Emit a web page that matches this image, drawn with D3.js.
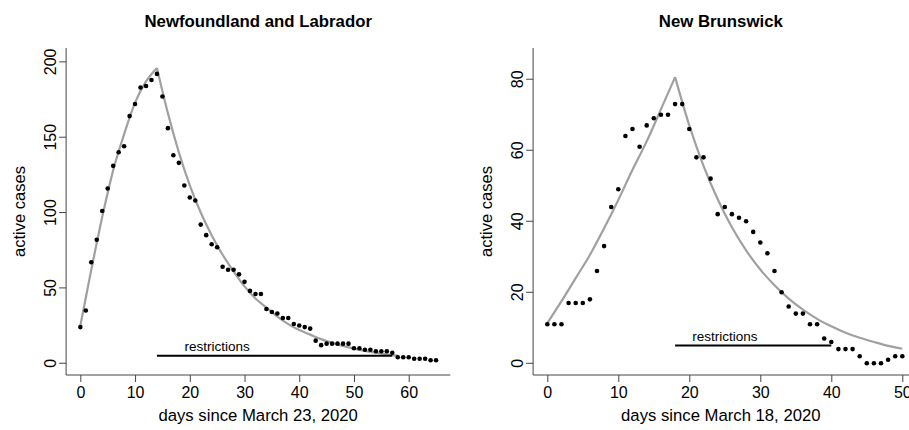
<!DOCTYPE html>
<html>
<head>
<meta charset="utf-8">
<script src="https://cdnjs.cloudflare.com/ajax/libs/d3/7.8.5/d3.min.js"></script>
<style>
  body { margin: 0; background: #fff; }
  text { font-family: "Liberation Sans", Arial, Helvetica, sans-serif; }
</style>
</head>
<body>
<div id="chart"></div>
<script>
// ---- Newfoundland and Labrador ----
var nlDays = d3.range(0, 66);
var nlCases = [24, 35, 67, 82, 101, 116, 131, 140, 144, 164, 172, 183, 184, 188, 192,
  177, 156, 138, 133, 118, 110, 108, 92, 85, 79, 77, 64, 62, 62, 59, 54, 48, 46, 46,
  36, 34, 33, 30, 30, 26, 25, 24, 23, 15, 12, 13, 13, 13, 13, 13, 10, 10, 9, 9, 8, 8,
  8, 7, 4, 4, 4, 3, 3, 3, 2, 2];
// fitted curve: rising part, then falling part
var nlRiseDays = [0, 2, 4, 6, 8, 10, 12, 14];
var nlRiseVals = [25, 62, 97, 128, 152, 173, 187, 196];
var nlFallDays = [14, 16, 18, 20, 22, 24, 26, 28, 30, 32, 34, 36, 38, 40, 42, 44, 46, 48, 50, 52, 54, 56, 58];
var nlFallVals = [196, 166, 140, 118, 100, 85, 72, 61, 51, 43, 37, 31, 26, 22, 19, 16, 13.5, 11.5, 9.7, 8.2, 7, 5.9, 5];
var nlRestrict = [14, 57];
var nlXTicks = [0, 10, 20, 30, 40, 50, 60];
var nlYTicks = [0, 50, 100, 150, 200];

// ---- New Brunswick ----
var nbDays = d3.range(0, 51);
var nbCases = [11, 11, 11, 17, 17, 17, 18, 26, 33, 44, 49, 64, 66, 61, 67, 69, 70, 70,
  73, 73, 66, 58, 58, 52, 42, 44, 42, 41, 40, 37, 34, 31, 26, 20, 16, 14, 14, 11, 11,
  7, 6, 4, 4, 4, 2, 0, 0, 0, 1, 2, 2];
var nbRiseDays = [0, 2, 4, 6, 8, 10, 12, 14, 16, 18];
var nbRiseVals = [11.3, 17.5, 24, 30.5, 38, 46, 54.5, 62.5, 71.5, 80.6];
var nbFallDays = [18, 20, 22, 24, 26, 28, 30, 32, 34, 36, 38, 40, 42, 44, 46, 48, 50];
var nbFallVals = [80.6, 67, 55.6, 46.2, 38.3, 31.8, 26.4, 22, 18.2, 15.1, 12.5, 10.4, 8.6, 7.2, 6, 4.9, 4.1];
var nbRestrict = [18, 40];
var nbXTicks = [0, 10, 20, 30, 40, 50];
var nbYTicks = [0, 20, 40, 60, 80];

var restrictLevel = 5;
var labelDay = 25;

var W = 909, H = 430;
var svg = d3.select("#chart").append("svg")
  .attr("width", W).attr("height", H);

function drawPanel(p) {
  var x = d3.scaleLinear().domain(p.xDomain).range([p.left, p.right]);
  var y = d3.scaleLinear().domain(p.yDomain).range([p.bottom, p.top]);
  var g = svg.append("g");

  // L-shaped box (left and bottom sides)
  g.append("path")
    .attr("d", "M" + p.left + "," + p.top + "V" + p.bottom + "H" + p.right)
    .attr("fill", "none").attr("stroke", "#444").attr("stroke-width", 1);

  var xAxis = d3.axisBottom(x).tickValues(p.xTicks).tickSize(7).tickPadding(5).tickSizeOuter(0);
  var gx = g.append("g").attr("transform", "translate(0," + p.bottom + ")").call(xAxis);
  gx.select(".domain").remove();
  gx.selectAll("line").attr("stroke", "#444");
  gx.selectAll("text").attr("font-size", 16).attr("fill", "#000");

  // y ticks with labels turned sideways, like R's default
  var yAxis = d3.axisLeft(y).tickValues(p.yTicks).tickSize(7).tickSizeOuter(0);
  var gy = g.append("g").attr("transform", "translate(" + p.left + ",0)").call(yAxis);
  gy.select(".domain").remove();
  gy.selectAll("line").attr("stroke", "#444");
  gy.selectAll(".tick").attr("transform", null);
  gy.selectAll(".tick line").attr("transform", function(d) { return "translate(0," + y(d) + ")"; });
  gy.selectAll("text")
    .attr("font-size", 16).attr("fill", "#000")
    .attr("x", null).attr("y", 0).attr("dy", "0.35em")
    .attr("text-anchor", "middle")
    .attr("transform", function(d) { return "translate(-16," + y(d) + ") rotate(-90)"; });

  // titles
  g.append("text").attr("x", (p.left + p.right) / 2 - p.titleShift).attr("y", 27)
    .attr("text-anchor", "middle").attr("font-weight", "bold").attr("font-size", 16.8)
    .text(p.title);
  g.append("text").attr("x", (p.left + p.right) / 2 - p.titleShift).attr("y", 421)
    .attr("text-anchor", "middle").attr("font-size", 16.7)
    .text(p.xLabel);
  g.append("text")
    .attr("transform", "translate(" + (p.left - 47) + "," + ((p.top + p.bottom) / 2) + ") rotate(-90)")
    .attr("text-anchor", "middle").attr("dy", "0.35em").attr("font-size", 16.5)
    .text("active cases");

  // model curve
  var line = d3.line().x(function(d) { return x(d[0]); }).y(function(d) { return y(d[1]); })
    .curve(d3.curveMonotoneX);
  [[p.riseDays, p.riseVals], [p.fallDays, p.fallVals]].forEach(function(s) {
    g.append("path")
      .datum(d3.zip(s[0], s[1]))
      .attr("d", line)
      .attr("fill", "none").attr("stroke", "#a0a0a0").attr("stroke-width", 2.2);
  });

  // restriction period
  g.append("line")
    .attr("x1", x(p.restrict[0])).attr("x2", x(p.restrict[1]))
    .attr("y1", y(restrictLevel)).attr("y2", y(restrictLevel))
    .attr("stroke", "#000").attr("stroke-width", 2);
  g.append("text").attr("x", x(labelDay)).attr("y", y(restrictLevel) - 5)
    .attr("text-anchor", "middle").attr("font-size", 13.5)
    .text("restrictions");

  // data points
  g.selectAll("circle.pt").data(d3.zip(p.days, p.cases)).enter().append("circle")
    .attr("class", "pt")
    .attr("cx", function(d) { return x(d[0]); })
    .attr("cy", function(d) { return y(d[1]); })
    .attr("r", 2.3).attr("fill", "#000");
}

drawPanel({
  left: 66.1, right: 450.3, top: 48, bottom: 375,
  xDomain: [-2.6, 67.6], yDomain: [-7.8, 209.2],
  xTicks: nlXTicks, yTicks: nlYTicks,
  days: nlDays, cases: nlCases,
  riseDays: nlRiseDays, riseVals: nlRiseVals,
  fallDays: nlFallDays, fallVals: nlFallVals,
  restrict: nlRestrict,
  title: "Newfoundland and Labrador", xLabel: "days since March 23, 2020",
  titleShift: 0
});

drawPanel({
  left: 533.1, right: 916.5, top: 48, bottom: 375,
  xDomain: [-2, 52], yDomain: [-3.3, 88.8],
  xTicks: nbXTicks, yTicks: nbYTicks,
  days: nbDays, cases: nbCases,
  riseDays: nbRiseDays, riseVals: nbRiseVals,
  fallDays: nbFallDays, fallVals: nbFallVals,
  restrict: nbRestrict,
  title: "New Brunswick", xLabel: "days since March 18, 2020",
  titleShift: 4
});
</script>
</body>
</html>
